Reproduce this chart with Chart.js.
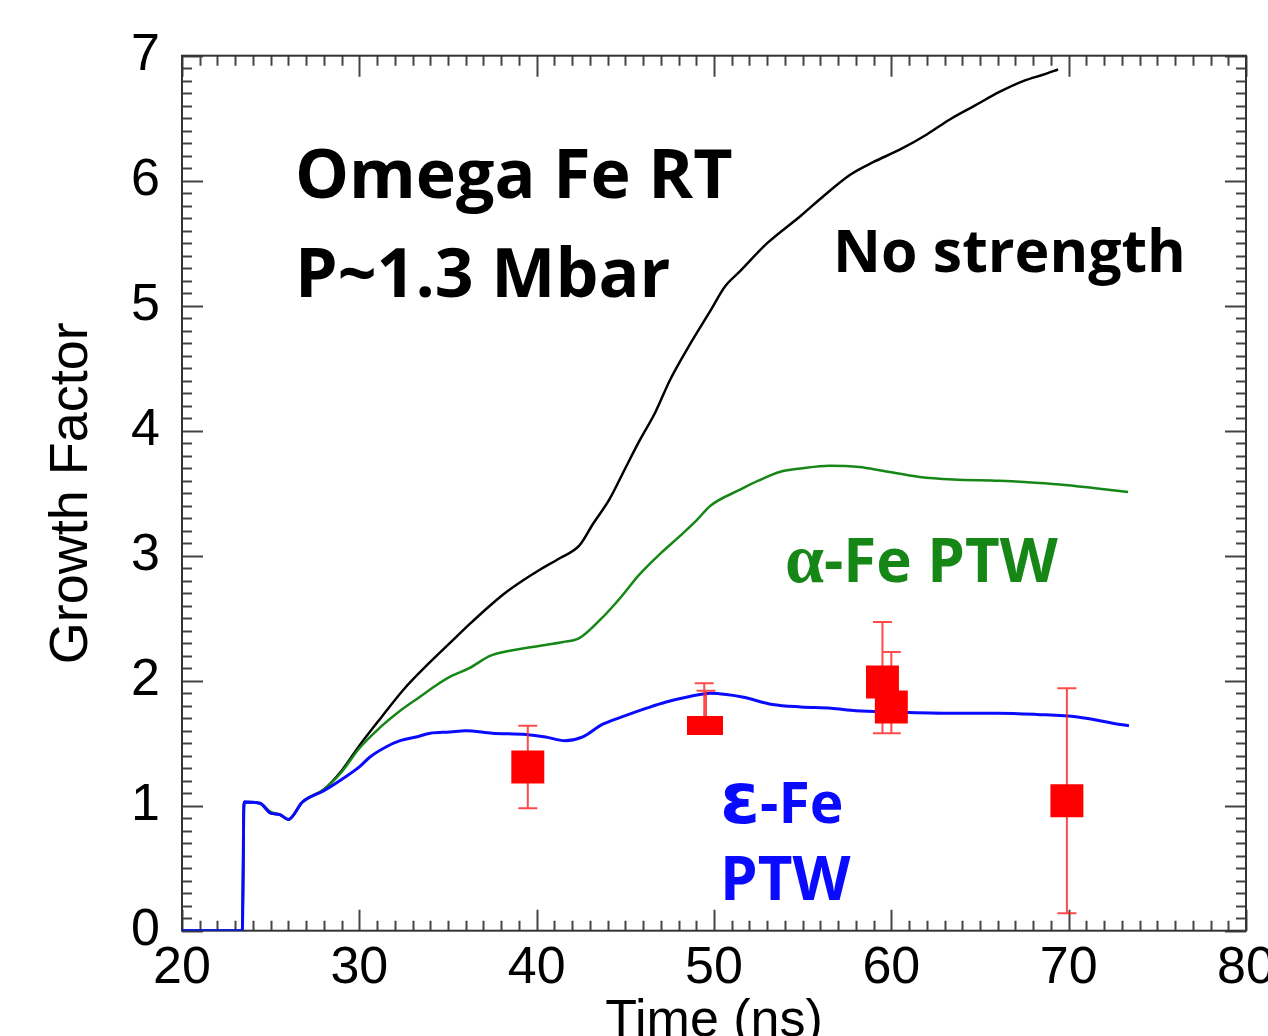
<!DOCTYPE html>
<html>
<head>
<meta charset="utf-8">
<title>Omega Fe RT growth factor</title>
<script src="https://cdn.jsdelivr.net/npm/chart.js@4.4.1/dist/chart.umd.min.js"></script>
<style>
  html, body { margin: 0; padding: 0; background: #fff; overflow: hidden; }
  #wrap { width: 1290px; height: 1060px; }
</style>
</head>
<body>
<div id="wrap"><canvas id="growth" width="1290" height="1060"></canvas></div>
<script>
// axis ticks
const xTickValues = [20, 30, 40, 50, 60, 70, 80];
const yTickValues = [0, 1, 2, 3, 4, 5, 6, 7];

// simulation: no strength
const noStrengthT = [20, 23.4, 23.5, 24.4, 25.0, 25.5, 26.0, 26.8, 28.0, 29.0, 30.0, 31.2, 32.5, 34.0, 35.1, 36.2, 37.2, 38.2, 39.2, 40.2, 41.3, 42.4, 43.2, 44.1, 45.0, 45.8, 46.7, 47.5, 48.6, 49.8, 50.6, 51.5, 53.0, 54.9, 56.2, 57.7, 59.0, 60.5, 62.0, 63.3, 64.7, 66.1, 67.5, 68.6, 69.4];
const noStrengthG = [0, 0, 1.03, 1.02, 0.94, 0.93, 0.89, 1.03, 1.13, 1.28, 1.48, 1.70, 1.93, 2.15, 2.30, 2.45, 2.58, 2.70, 2.80, 2.89, 2.98, 3.08, 3.26, 3.45, 3.70, 3.92, 4.15, 4.40, 4.68, 4.96, 5.15, 5.28, 5.50, 5.72, 5.88, 6.05, 6.15, 6.25, 6.37, 6.49, 6.60, 6.71, 6.80, 6.85, 6.89];

// simulation: alpha-Fe PTW
const alphaT = [20, 23.4, 23.5, 24.4, 25.0, 25.5, 26.0, 26.8, 28.0, 29.0, 30.0, 31.2, 32.3, 33.4, 34.3, 35.1, 36.2, 37.4, 38.5, 40.2, 41.5, 42.4, 43.6, 44.7, 45.8, 47.0, 48.1, 49.0, 49.8, 51.5, 52.5, 53.7, 55.0, 56.5, 58.2, 59.5, 61.6, 63.5, 66.1, 67.5, 69.5, 71.5, 73.35];
const alphaG = [0, 0, 1.03, 1.02, 0.95, 0.93, 0.89, 1.03, 1.13, 1.27, 1.46, 1.63, 1.76, 1.87, 1.96, 2.03, 2.10, 2.20, 2.24, 2.28, 2.31, 2.34, 2.49, 2.66, 2.85, 3.02, 3.16, 3.28, 3.40, 3.53, 3.60, 3.67, 3.70, 3.72, 3.71, 3.68, 3.63, 3.61, 3.60, 3.59, 3.57, 3.54, 3.51];

// simulation: epsilon-Fe PTW
const epsilonT = [20, 23.4, 23.5, 24.4, 25.0, 25.5, 26.0, 26.8, 28.0, 29.0, 30.0, 30.6, 31.5, 32.3, 33.2, 34.0, 35.1, 36.0, 37.5, 39.4, 40.5, 41.6, 42.6, 43.7, 45.0, 46.2, 47.3, 48.5, 49.8, 50.7, 51.6, 53.3, 54.9, 56.6, 58.0, 60.0, 63.5, 66.0, 68.2, 70.5, 72.9, 73.4];
const epsilonG = [0, 0, 1.03, 1.02, 0.94, 0.93, 0.89, 1.03, 1.12, 1.21, 1.31, 1.39, 1.47, 1.52, 1.55, 1.58, 1.59, 1.60, 1.58, 1.57, 1.55, 1.52, 1.55, 1.65, 1.72, 1.78, 1.83, 1.87, 1.90, 1.89, 1.87, 1.81, 1.79, 1.78, 1.76, 1.75, 1.74, 1.74, 1.73, 1.71, 1.65, 1.64];

// experiment with error bars
const expT = [39.5, 49.45, 49.55, 59.5, 60.0, 69.9];
const expG = [1.31, 1.64, 1.64, 1.99, 1.79, 1.04];
const expHi = [1.64, 1.98, 1.92, 2.47, 2.23, 1.94];
const expLo = [0.98, 1.62, 1.62, 1.58, 1.58, 0.14];

const toXY = (ts, gs) => ts.map((t, i) => ({ x: t, y: gs[i] }));

// flat marker used for the two overlapping points near 50 ns
const flatMark = document.createElement('canvas');
flatMark.width = 34;
flatMark.height = 19;
const fm = flatMark.getContext('2d');
fm.fillStyle = '#ff0000';
fm.fillRect(0, 0, 34, 19);
const expMarker = expT.map(t => (t > 49 && t < 50 ? flatMark : 'rect'));

const GREEN = 'rgb(22,135,22)';
const BLUE = '#0a0aff';

// box with inward major/minor ticks on all four sides
const frameTicks = {
  id: 'frameTicks',
  beforeDatasetsDraw(chart) {
    const { ctx, chartArea: a, scales: { x, y } } = chart;
    ctx.save();
    ctx.strokeStyle = '#444';
    ctx.lineWidth = 2;
    ctx.beginPath();
    for (let v = x.min; v <= x.max; v++) {
      const px = Math.round(x.getPixelForValue(v)) + 0.5;
      const len = v % 10 === 0 ? 21 : 10;
      ctx.moveTo(px, a.bottom); ctx.lineTo(px, a.bottom - len);
      ctx.moveTo(px, a.top); ctx.lineTo(px, a.top + len);
    }
    for (let i = Math.round(y.min * 10); i <= Math.round(y.max * 10); i++) {
      const py = Math.round(y.getPixelForValue(i / 10)) + 0.5;
      const len = i % 10 === 0 ? 21 : 10;
      ctx.moveTo(a.left, py); ctx.lineTo(a.left + len, py);
      ctx.moveTo(a.right, py); ctx.lineTo(a.right - len, py);
    }
    ctx.stroke();
    ctx.strokeStyle = '#333';
    ctx.strokeRect(a.left, a.top, a.width, a.height);
    ctx.restore();
  }
};

// error bars, drawn just before the experiment markers
const errorBars = {
  id: 'errorBars',
  beforeDatasetDraw(chart, args) {
    if (args.index !== 0) return;
    const { ctx, scales: { x, y } } = chart;
    ctx.save();
    ctx.strokeStyle = 'rgba(255,30,30,0.8)';
    ctx.lineWidth = 2;
    ctx.beginPath();
    expT.forEach((t, i) => {
      const px = x.getPixelForValue(t);
      const top = y.getPixelForValue(expHi[i]);
      const bot = y.getPixelForValue(expLo[i]);
      ctx.moveTo(px, top); ctx.lineTo(px, bot);
      ctx.moveTo(px - 9.5, top); ctx.lineTo(px + 9.5, top);
      ctx.moveTo(px - 9.5, bot); ctx.lineTo(px + 9.5, bot);
    });
    ctx.stroke();
    ctx.restore();
  }
};

// text labels in the plot, anchored at data coordinates
const SANS_B = '"Open Sans", "Liberation Sans", sans-serif';
const notes = [
  { x: 26.37, y: 5.862, color: '#000', parts: [['Omega Fe RT', 'bold 68px ' + SANS_B]] },
  { x: 26.37, y: 5.072, color: '#000', parts: [['P~1.3 Mbar', 'bold 68px ' + SANS_B]] },
  { x: 56.71, y: 5.272, color: '#000', parts: [['No strength', 'bold 59px ' + SANS_B]] },
  { x: 54.0, y: 2.792, color: GREEN, parts: [['\u03b1', 'bold 70px "Liberation Serif", serif'], ['-Fe PTW', 'bold 60px ' + SANS_B]] },
  { x: 50.34, y: 0.859, color: BLUE, parts: [['\u03b5', 'bold 72px "DejaVu Sans", sans-serif'], ['-Fe', 'bold 57px ' + SANS_B]] },
  { x: 50.34, y: 0.246, color: BLUE, parts: [['PTW', 'bold 60px ' + SANS_B]] }
];

const plotNotes = {
  id: 'plotNotes',
  afterDraw(chart) {
    const { ctx, scales: { x, y } } = chart;
    ctx.save();
    ctx.textBaseline = 'alphabetic';
    ctx.textAlign = 'left';
    notes.forEach(n => {
      let px = x.getPixelForValue(n.x);
      const py = y.getPixelForValue(n.y);
      ctx.fillStyle = n.color;
      n.parts.forEach(([txt, font]) => {
        ctx.font = font;
        ctx.fillText(txt, px, py);
        px += ctx.measureText(txt).width;
      });
    });
    ctx.restore();
  }
};

const axisFont = { family: '"Liberation Sans", Arial, sans-serif', size: 52 };

new Chart(document.getElementById('growth'), {
  type: 'scatter',
  data: {
    datasets: [
      {
        label: 'Experiment',
        data: toXY(expT, expG),
        pointStyle: expMarker,
        pointRadius: 23.3,
        backgroundColor: '#ff0000',
        borderWidth: 0,
        showLine: false
      },
      {
        label: 'epsilon-Fe PTW',
        data: toXY(epsilonT, epsilonG),
        showLine: true,
        borderColor: BLUE,
        borderWidth: 3,
        pointRadius: 0,
        cubicInterpolationMode: 'monotone'
      },
      {
        label: 'alpha-Fe PTW',
        data: toXY(alphaT, alphaG),
        showLine: true,
        borderColor: GREEN,
        borderWidth: 2.5,
        pointRadius: 0,
        cubicInterpolationMode: 'monotone'
      },
      {
        label: 'No strength',
        data: toXY(noStrengthT, noStrengthG),
        showLine: true,
        borderColor: '#000',
        borderWidth: 2.5,
        pointRadius: 0,
        cubicInterpolationMode: 'monotone'
      }
    ]
  },
  options: {
    responsive: false,
    animation: false,
    layout: { padding: { left: 0, right: 44, top: 55.7, bottom: 0 } },
    plugins: {
      legend: { display: false },
      tooltip: { enabled: false }
    },
    scales: {
      x: {
        type: 'linear',
        min: 20,
        max: 80,
        afterBuildTicks: s => { s.ticks = xTickValues.map(v => ({ value: v })); },
        afterFit: s => { s.height = 1060 - 930.7; },
        grid: { display: false, drawTicks: false },
        border: { display: false },
        ticks: { font: axisFont, color: '#000', padding: 7, maxRotation: 0, autoSkip: false },
        title: { display: true, text: 'Time (ns)', font: axisFont, color: '#000', padding: { top: 0, bottom: 7 } }
      },
      y: {
        type: 'linear',
        min: 0,
        max: 7,
        afterBuildTicks: s => { s.ticks = yTickValues.map(v => ({ value: v })); },
        afterFit: s => { s.width = 182; },
        grid: { display: false, drawTicks: false },
        border: { display: false },
        ticks: { font: axisFont, color: '#000', padding: 22 },
        title: { display: true, text: 'Growth Factor', font: { family: axisFont.family, size: 54 }, color: '#000', padding: { top: 40, bottom: 0 } }
      }
    }
  },
  plugins: [frameTicks, errorBars, plotNotes]
});
</script>
</body>
</html>
